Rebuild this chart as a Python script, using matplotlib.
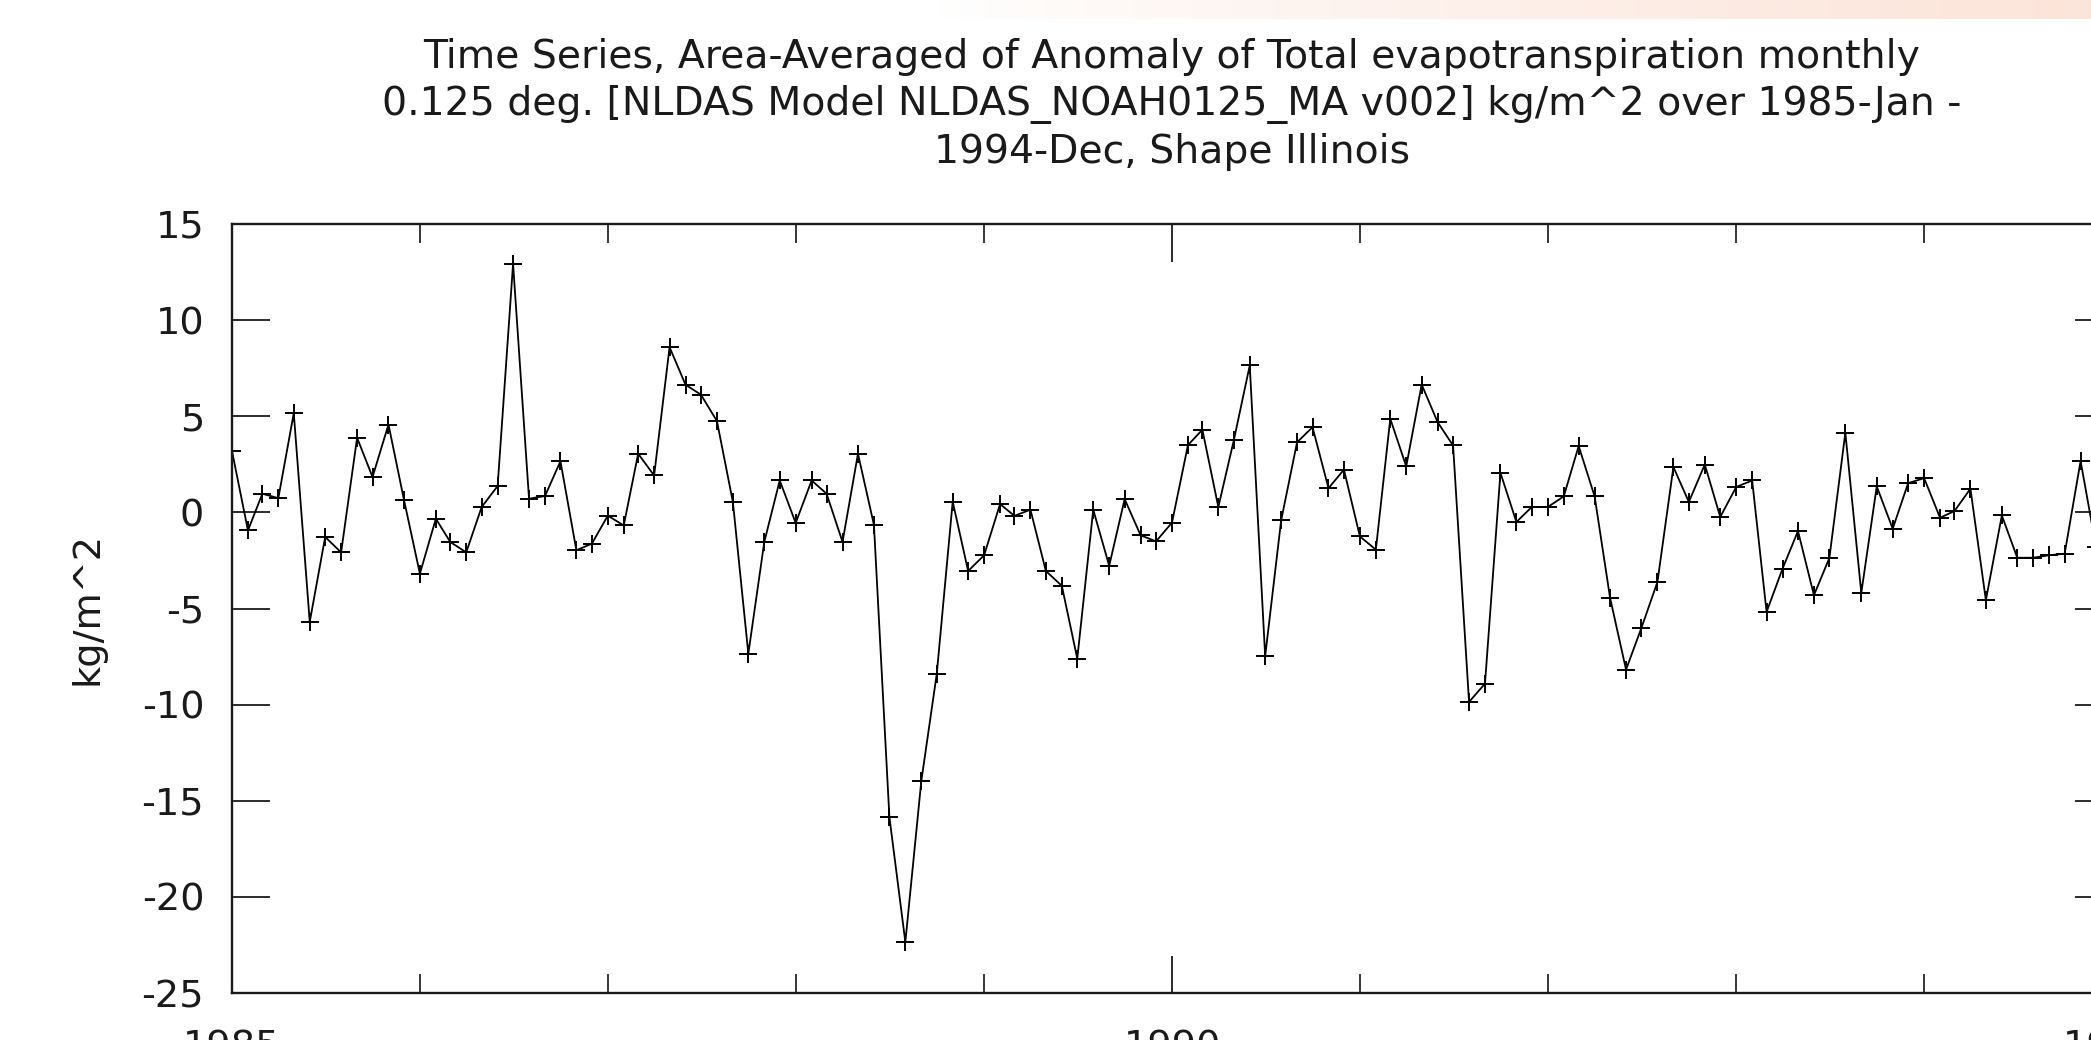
import numpy as np
import pandas as pd
import matplotlib
matplotlib.use("Agg")
import matplotlib.pyplot as plt
import matplotlib.dates as mdates

plt.rcParams['font.family'] = ['DejaVu Sans']
plt.rcParams['axes.unicode_minus'] = False

# ---- data ----
title_lines = [
    "Time Series, Area-Averaged of Anomaly of Total evapotranspiration monthly",
    "0.125 deg. [NLDAS Model NLDAS_NOAH0125_MA v002] kg/m^2 over 1985-Jan -",
    "1994-Dec, Shape Illinois",
]
y_label = "kg/m^2"
months = pd.date_range("1985-01-01", periods=120, freq="MS")
anomaly = [
    3.19, -0.94, 0.97, 0.74, 5.16, -5.70, -1.28, -2.08, 3.88, 1.84, 4.57, 0.66,      # 1985
    -3.19, -0.33, -1.54, -2.08, 0.28, 1.37, 12.93, 0.71, 0.85, 2.66, -1.97, -1.63,   # 1986
    -0.17, -0.68, 3.05, 1.92, 8.59, 6.64, 6.12, 4.75, 0.54, -7.35, -1.54, 1.66,      # 1987
    -0.55, 1.66, 0.97, -1.54, 3.05, -0.65, -15.84, -22.35, -13.98, -8.41, 0.56, -3.05,  # 1988
    -2.23, 0.43, -0.18, 0.14, -3.05, -3.82, -7.61, 0.14, -2.78, 0.69, -1.19, -1.51,  # 1989
    -0.53, 3.50, 4.30, 0.28, 3.74, 7.64, -7.48, -0.42, 3.65, 4.43, 1.26, 2.22,       # 1990
    -1.25, -1.94, 4.87, 2.39, 6.65, 4.69, 3.48, -9.86, -8.91, 2.06, -0.50, 0.28,     # 1991
    0.28, 0.83, 3.45, 0.83, -4.45, -8.18, -6.00, -3.62, 2.36, 0.54, 2.49, -0.24,     # 1992
    1.32, 1.66, -5.18, -2.93, -0.97, -4.31, -2.37, 4.14, -4.19, 1.35, -0.85, 1.52,   # 1993
    1.78, -0.28, 0.07, 1.23, -4.57, -0.16, -2.36, -2.36, -2.23, -2.15, 2.67, -1.80,  # 1994
]
y_ticks = [15, 10, 5, 0, -5, -10, -15, -20, -25]
x_range = ["1985-01-01", "1995-01-01"]

W, H = 2091, 1040
fig = plt.figure(figsize=(W / 100, H / 100), dpi=100)
fig.patch.set_facecolor("white")

# faint page-header gradient at the very top (web page background)
band = fig.add_axes([0, 1 - 19 / H, 1, 19 / H])
grad = np.linspace(0, 1, 512)
alpha = np.clip((grad - 0.45) / 0.55, 0, 1) ** 0.8
c0 = np.array([1.0, 1.0, 1.0])
c1 = np.array([0.988, 0.894, 0.851])
img = c0[None, :] * (1 - alpha[:, None]) + c1[None, :] * alpha[:, None]
band.imshow(img[None, :, :], aspect="auto", extent=[0, 1, 0, 1])
band.axis("off")

ax_left, ax_right = 232 / W, 2112 / W
ax_bottom, ax_top = 1 - 993 / H, 1 - 224 / H
ax = fig.add_axes([ax_left, ax_bottom, ax_right - ax_left, ax_top - ax_bottom])

ax.plot(months, anomaly, color="black", linewidth=1.3,
        marker="+", markersize=13, markeredgewidth=1.4)

ax.set_xlim(pd.Timestamp(x_range[0]), pd.Timestamp(x_range[1]))
ax.set_ylim(-25, 15)
ax.set_yticks(y_ticks)
ax.set_yticklabels([str(t) for t in y_ticks])

ax.xaxis.set_major_locator(mdates.YearLocator(5))
ax.xaxis.set_minor_locator(mdates.YearLocator(1))
ax.xaxis.set_major_formatter(mdates.DateFormatter("%Y"))

for s in ax.spines.values():
    s.set_linewidth(1.7)
    s.set_color("#1a1a1a")

ax.tick_params(axis="both", which="major", direction="in", length=27,
               width=1.3, labelsize=27.5, colors="#1a1a1a",
               top=True, right=True)
ax.tick_params(axis="x", which="minor", direction="in", length=14,
               width=1.1, top=True, bottom=True)
ax.tick_params(axis="y", which="major", pad=20)
ax.tick_params(axis="x", which="major", pad=26)
for lab in ax.get_xticklabels() + ax.get_yticklabels():
    lab.set_color("#1a1a1a")

ax.set_ylabel(y_label, fontsize=27.5, color="#1a1a1a", labelpad=26)

cx = (ax_left + ax_right) / 2
for k, line in enumerate(title_lines):
    fig.text(cx, 1 - (57 + 47.5 * k) / H, line, ha="center", va="center",
             fontsize=28.4, color="#1a1a1a")

fig.savefig("out.png", dpi=100)
